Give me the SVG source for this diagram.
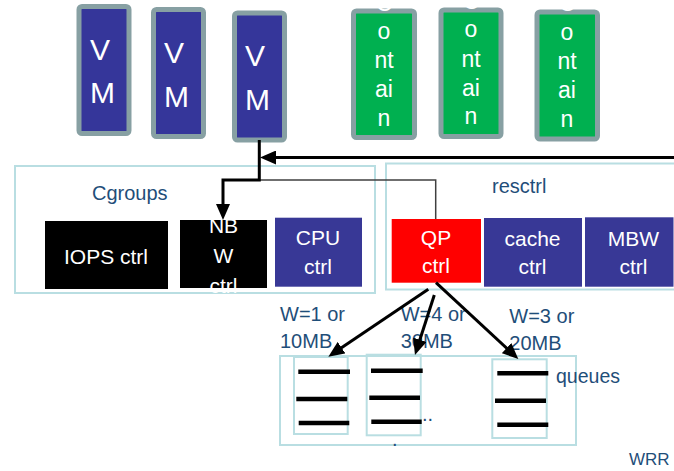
<svg xmlns="http://www.w3.org/2000/svg" width="674" height="471" viewBox="0 0 674 471">
  <style>
    .vm { fill: #35369A; stroke: #87A0A3; stroke-width: 5; }
    .ct { fill: #00B050; stroke: #87A0A3; stroke-width: 5; }
    .vmt { font-family: "Liberation Sans", Arial, sans-serif; font-size: 30px; fill: #FFFFFF; }
    .ctt { font-family: "Liberation Sans", Arial, sans-serif; font-size: 23px; fill: #FFFFFF; text-anchor: middle; }
    .grp { fill: none; stroke: #B9DEE2; stroke-width: 2; }
    .lbl { font-family: "Liberation Sans", Arial, sans-serif; font-size: 20px; fill: #1F4E79; }
    .bt { font-family: "Liberation Sans", Arial, sans-serif; font-size: 21px; fill: #FFFFFF; text-anchor: middle; }
    .blue { fill: #383896; }
    .blk { fill: #000000; }
    .red { fill: #FF0000; }
    .q { fill: none; stroke: #B9DEE2; stroke-width: 2; }
    .bar { stroke: #000000; stroke-width: 4.5; }
    .conn { fill: none; stroke: #000000; stroke-width: 3; }
    .thin { fill: none; stroke: #404040; stroke-width: 1.5; }
  </style>
  <defs>
    <marker id="arrow" viewBox="0 0 16 14" refX="10" refY="7" markerWidth="16" markerHeight="14" markerUnits="userSpaceOnUse" orient="auto">
      <path d="M0,0 L16,7 L0,14 z" fill="#000000"/>
    </marker>
  </defs>

  <!-- virtual machines -->
  <g id="vm1">
    <rect class="vm" x="79" y="6.5" width="50" height="127" rx="3"/>
    <text class="vmt" x="90" y="60">V</text>
    <text class="vmt" x="90" y="103">M</text>
  </g>
  <g id="vm2">
    <rect class="vm" x="153.5" y="9.5" width="50" height="127" rx="3"/>
    <text class="vmt" x="164" y="63">V</text>
    <text class="vmt" x="164" y="107">M</text>
  </g>
  <g id="vm3">
    <rect class="vm" x="234.5" y="13" width="50" height="127" rx="3"/>
    <text class="vmt" x="245" y="66">V</text>
    <text class="vmt" x="245" y="110">M</text>
  </g>

  <!-- containers -->
  <g id="container1">
    <rect class="ct" x="353.5" y="11" width="61" height="126.5" rx="3"/>
    <text class="ctt" x="384" y="10.5">C</text>
    <text class="ctt" x="384" y="39.3">o</text>
    <text class="ctt" x="384" y="68.3">nt</text>
    <text class="ctt" x="384" y="96.7">ai</text>
    <text class="ctt" x="384" y="125.7">n</text>
  </g>
  <g id="container2">
    <rect class="ct" x="441" y="10" width="60" height="126.5" rx="3"/>
    <text class="ctt" x="471" y="8.5">C</text>
    <text class="ctt" x="471" y="37.3">o</text>
    <text class="ctt" x="471" y="66.7">nt</text>
    <text class="ctt" x="471" y="95.7">ai</text>
    <text class="ctt" x="471" y="124.3">n</text>
  </g>
  <g id="container3">
    <rect class="ct" x="537" y="12" width="60.5" height="127" rx="3"/>
    <text class="ctt" x="567" y="11.2">C</text>
    <text class="ctt" x="567" y="40">o</text>
    <text class="ctt" x="567" y="69">nt</text>
    <text class="ctt" x="567" y="97.7">ai</text>
    <text class="ctt" x="567" y="126.7">n</text>
  </g>

  <!-- cgroups -->
  <g id="cgroups">
    <rect class="grp" x="15" y="166" width="360" height="127"/>
    <text class="lbl" x="92" y="200">Cgroups</text>
  </g>
  <g id="iops-ctrl">
    <rect class="blk" x="45" y="221" width="123" height="68"/>
    <text class="bt" x="106" y="264">IOPS ctrl</text>
  </g>
  <g id="nbw-ctrl">
    <rect class="blk" x="180" y="220" width="87" height="68"/>
    <text class="bt" x="223.5" y="233.3">NB</text>
    <text class="bt" x="223.5" y="263.3">W</text>
    <text class="bt" x="223.5" y="293.3">ctrl</text>
  </g>
  <g id="cpu-ctrl">
    <rect class="blue" x="275" y="217.7" width="87" height="69"/>
    <text class="bt" x="318" y="245">CPU</text>
    <text class="bt" x="318" y="274.3">ctrl</text>
  </g>

  <!-- resctrl -->
  <g id="resctrl">
    <rect class="grp" x="386" y="163.5" width="300" height="126"/>
    <text class="lbl" x="492" y="192.7">resctrl</text>
  </g>
  <g id="qp-ctrl">
    <rect class="red" x="391.7" y="219" width="89.3" height="63.7"/>
    <text class="bt" x="436" y="245">QP</text>
    <text class="bt" x="436" y="273.3">ctrl</text>
  </g>
  <g id="cache-ctrl">
    <rect class="blue" x="484" y="218" width="98" height="68.7"/>
    <text class="bt" x="532.5" y="245.7">cache</text>
    <text class="bt" x="532.5" y="273.7">ctrl</text>
  </g>
  <g id="mbw-ctrl">
    <rect class="blue" x="585" y="217.3" width="88.5" height="69.4"/>
    <text class="bt" x="633.5" y="245.7">MBW</text>
    <text class="bt" x="633.5" y="273.7">ctrl</text>
  </g>

  <!-- queues -->
  <g id="queues">
    <rect class="grp" x="280" y="356" width="296" height="89"/>
    <text class="lbl" x="556" y="383.3" style="font-size:19.5px">queues</text>
    <text class="lbl" x="422" y="421">..</text>
    <text class="lbl" x="392" y="446">.</text>
  </g>
  <g id="queue1">
    <rect class="q" x="294" y="357" width="53.7" height="77"/>
    <line class="bar" x1="298.3" y1="371.7" x2="350" y2="371.7"/>
    <line class="bar" x1="296.3" y1="399" x2="347.3" y2="399"/>
    <line class="bar" x1="298.7" y1="423" x2="349.3" y2="423"/>
  </g>
  <g id="queue2">
    <rect class="q" x="366.7" y="354.7" width="54" height="80.6"/>
    <line class="bar" x1="371" y1="370.7" x2="422.7" y2="370.7"/>
    <line class="bar" x1="369.3" y1="397.7" x2="420" y2="397.7"/>
    <line class="bar" x1="371.3" y1="421.7" x2="421.7" y2="421.7"/>
  </g>
  <g id="queue3">
    <rect class="q" x="492.3" y="359.3" width="54.4" height="78.7"/>
    <line class="bar" x1="497.3" y1="373.3" x2="548.3" y2="373.3"/>
    <line class="bar" x1="495" y1="400.7" x2="546" y2="400.7"/>
    <line class="bar" x1="497.3" y1="424.7" x2="548.3" y2="424.7"/>
  </g>

  <!-- weight labels -->
  <g id="weights">
    <text class="lbl" x="280" y="321">W=1 or</text>
    <text class="lbl" x="280" y="347.7">10MB</text>
    <text class="lbl" x="400.7" y="321">W=4 or</text>
    <text class="lbl" x="400.7" y="347.7">30MB</text>
    <text class="lbl" x="509.3" y="323">W=3 or</text>
    <text class="lbl" x="509.3" y="349.7">20MB</text>
    <text class="lbl" x="629" y="465" style="font-size:17px">WRR</text>
  </g>

  <!-- connectors -->
  <g id="connectors">
    <path class="thin" d="M259,180 H435.7 V219"/>
    <line class="conn" x1="674" y1="157.5" x2="266" y2="157.5" marker-end="url(#arrow)"/>
    <path class="conn" d="M259.3,140 V180 H223 V214" marker-end="url(#arrow)"/>
    <line class="conn" x1="428.3" y1="289.3" x2="333.3" y2="353.3" marker-end="url(#arrow)"/>
    <line class="conn" x1="434.3" y1="295" x2="416.8" y2="349.3" marker-end="url(#arrow)"/>
    <line class="conn" x1="436" y1="282.7" x2="513.9" y2="354.9" marker-end="url(#arrow)"/>
  </g>
</svg>
